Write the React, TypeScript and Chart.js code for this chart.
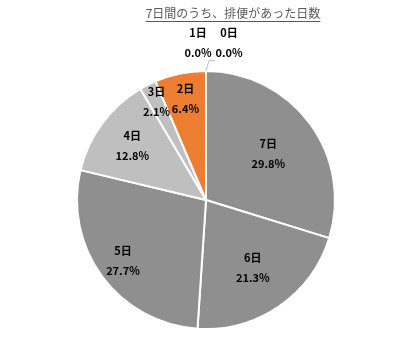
import React, { useEffect, useRef } from "react";
import { Chart, registerables } from "chart.js";

Chart.register(...registerables);

const TITLE = "7日間のうち、排便があった日数";
const CATEGORIES = ["7日", "6日", "5日", "4日", "3日", "2日", "1日", "0日"];
const VALUES = [29.8, 21.3, 27.7, 12.8, 2.1, 6.4, 0.0, 0.0];
const COLORS = ["#8f8f8f", "#8f8f8f", "#8f8f8f", "#bfbfbf", "#bfbfbf", "#ed7d31", "#8f8f8f", "#8f8f8f"];
// label distance from centre, as a fraction of radius (layout only)
const LABEL_RADIUS = [0.6, 0.64, 0.8, 0.71, 0.85, 0.8, 1.2, 1.2];

const FONT = '"Noto Sans CJK JP", "Noto Sans", sans-serif';

const labelPlugin = {
  id: "pieLabels",
  afterDraw(chart: any) {
    const ctx = chart.ctx;
    const meta = chart.getDatasetMeta(0);
    ctx.save();
    // title
    ctx.font = `12px ${FONT}`;
    ctx.fillStyle = "#595959";
    ctx.textAlign = "center";
    ctx.textBaseline = "middle";
    const tx = 233, ty = 13;
    ctx.fillText(TITLE, tx, ty);
    const tw = ctx.measureText(TITLE).width;
    ctx.strokeStyle = "#595959";
    ctx.lineWidth = 1;
    ctx.beginPath();
    ctx.moveTo(tx - tw / 2, 21.5);
    ctx.lineTo(tx + tw / 2, 21.5);
    ctx.stroke();

    ctx.font = `bold 11px ${FONT}`;
    ctx.fillStyle = "#000000";
    let zeroIdx = 0;
    meta.data.forEach((arc: any, i: number) => {
      const { x, y, startAngle, endAngle, outerRadius } = arc.getProps(
        ["x", "y", "startAngle", "endAngle", "outerRadius"],
        true
      );
      const v = VALUES[i];
      const txt2 = v.toFixed(1) + "%";
      if (v === 0) {
        const lx = x - 8 + zeroIdx * 31;
        const ly = y - outerRadius - 28;
        ctx.fillText(CATEGORIES[i], lx, ly - 10);
        ctx.fillText(txt2, lx, ly + 10);
        if (zeroIdx === 0) {
          ctx.strokeStyle = "#bfbfbf";
          ctx.beginPath();
          ctx.moveTo(x + 9, y - outerRadius - 10.5);
          ctx.lineTo(x + 3, y - outerRadius - 10.5);
          ctx.lineTo(x, y - outerRadius);
          ctx.stroke();
        }
        zeroIdx++;
        return;
      }
      const mid = (startAngle + endAngle) / 2;
      const r = outerRadius * LABEL_RADIUS[i];
      const lx = x + Math.cos(mid) * r;
      const ly = y + Math.sin(mid) * r;
      ctx.fillText(CATEGORIES[i], lx, ly - 10);
      ctx.fillText(txt2, lx, ly + 10);
    });
    ctx.restore();
  },
};

export default function App() {
  const ref = useRef<HTMLCanvasElement>(null);
  useEffect(() => {
    document.body.style.margin = "0";
    document.body.style.background = "#ffffff";
    const chart = new Chart(ref.current!, {
      type: "pie",
      data: {
        labels: CATEGORIES,
        datasets: [
          {
            data: VALUES,
            backgroundColor: COLORS,
            borderColor: "#ffffff",
            borderWidth: 2,
            hoverOffset: 0,
          },
        ],
      },
      options: {
        animation: false,
        responsive: false,
        layout: { padding: { left: 76, right: 84, top: 70, bottom: 30 } },
        plugins: {
          legend: { display: false },
          tooltip: { enabled: false },
          title: { display: false },
        },
      },
      plugins: [labelPlugin],
    });
    return () => chart.destroy();
  }, []);
  return (
    <div style={{ width: 420, height: 360 }}>
      <canvas ref={ref} width={420} height={360} style={{ width: 420, height: 360 }} />
    </div>
  );
}
